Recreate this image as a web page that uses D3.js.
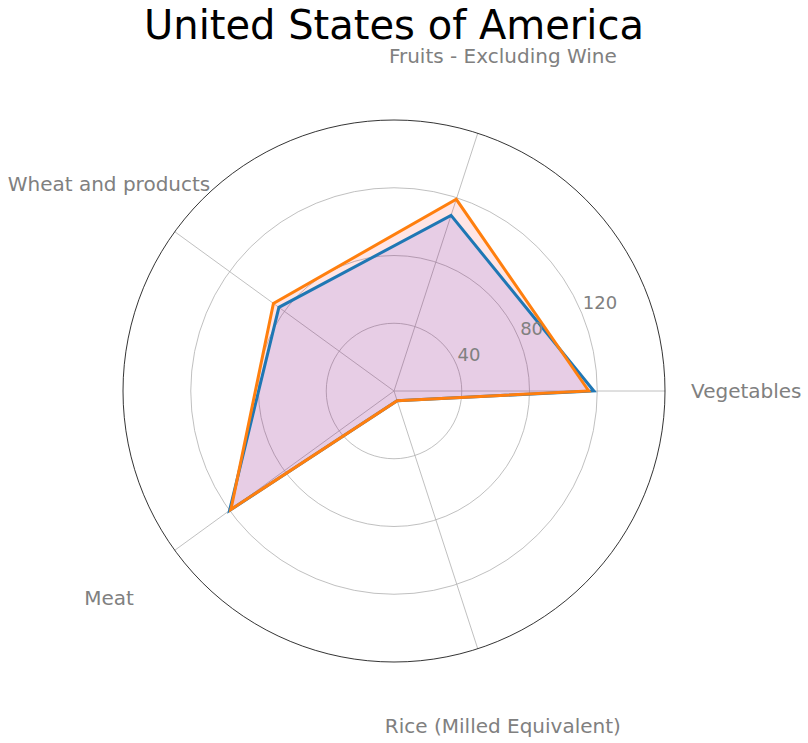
<!DOCTYPE html>
<html>
<head>
<meta charset="utf-8">
<script src="https://cdn.jsdelivr.net/npm/d3@7"></script>
<style>
  html, body { margin: 0; padding: 0; background: #fff; }
  svg { display: block; font-family: "DejaVu Sans", sans-serif; }
</style>
</head>
<body>
<svg id="chart" width="808" height="743"></svg>
<script>
const title = "United States of America";
const categories = ["Vegetables", "Fruits - Excluding Wine", "Wheat and products", "Meat", "Rice (Milled Equivalent)"];
const seriesA = [118, 109, 84, 120, 6];   // blue
const seriesB = [115, 119, 88, 119, 6];   // orange
const tickValues = [40, 80, 120];
const rMax = 160;

const svg = d3.select("#chart");
const cx = 394, cy = 391, R = 271;
const g = svg.append("g").attr("transform", `translate(${cx},${cy})`);

const r = d3.scaleLinear().domain([0, rMax]).range([0, R]);
const angle = d3.scaleLinear().domain([0, categories.length]).range([0, 2 * Math.PI]);
const pt = (i, v) => [r(v) * Math.cos(angle(i)), -r(v) * Math.sin(angle(i))];

// grid circles
g.selectAll("circle.grid").data(tickValues).enter().append("circle")
  .attr("r", d => r(d)).attr("fill", "none").attr("stroke", "#b0b0b0").attr("stroke-width", 0.8);
// spokes
g.selectAll("line.spoke").data(categories).enter().append("line")
  .attr("x1", 0).attr("y1", 0)
  .attr("x2", (d, i) => pt(i, rMax)[0]).attr("y2", (d, i) => pt(i, rMax)[1])
  .attr("stroke", "#b0b0b0").attr("stroke-width", 0.8);

const line = d3.line().curve(d3.curveLinearClosed);
const ptsA = seriesA.map((v, i) => pt(i, v));
const ptsB = seriesB.map((v, i) => pt(i, v));

g.append("path").attr("d", line(ptsA)).attr("fill", "blue").attr("fill-opacity", 0.1).attr("stroke", "none");
g.append("path").attr("d", line(ptsB)).attr("fill", "red").attr("fill-opacity", 0.1).attr("stroke", "none");
g.append("path").attr("d", line(ptsA)).attr("fill", "none").attr("stroke", "#1f77b4").attr("stroke-width", 3).attr("stroke-linejoin", "miter");
g.append("path").attr("d", line(ptsB)).attr("fill", "none").attr("stroke", "#ff7f0e").attr("stroke-width", 3).attr("stroke-linejoin", "miter");

// outer circle
g.append("circle").attr("r", R).attr("fill", "none").attr("stroke", "#000").attr("stroke-width", 0.8);

// radial tick labels at 22.5 degrees
const la = 22.5 * Math.PI / 180;
g.selectAll("text.tick").data(tickValues).enter().append("text")
  .attr("x", d => r(d) * Math.cos(la) + 1)
  .attr("y", d => -r(d) * Math.sin(la) - 4)
  .attr("text-anchor", "start")
  .attr("font-size", 18).attr("fill", "#808080")
  .text(d => d);

// category labels
g.selectAll("text.cat").data(categories).enter().append("text")
  .attr("x", (d, i) => 1.3 * R * Math.cos(angle(i)))
  .attr("y", (d, i) => -1.3 * R * Math.sin(angle(i)))
  .attr("text-anchor", "middle").attr("dominant-baseline", "central")
  .attr("font-size", 20).attr("fill", "#808080")
  .text(d => d);

svg.append("text").attr("x", cx).attr("y", 39).attr("text-anchor", "middle")
  .attr("font-size", 40).attr("fill", "#000").text(title);
</script>
</body>
</html>
